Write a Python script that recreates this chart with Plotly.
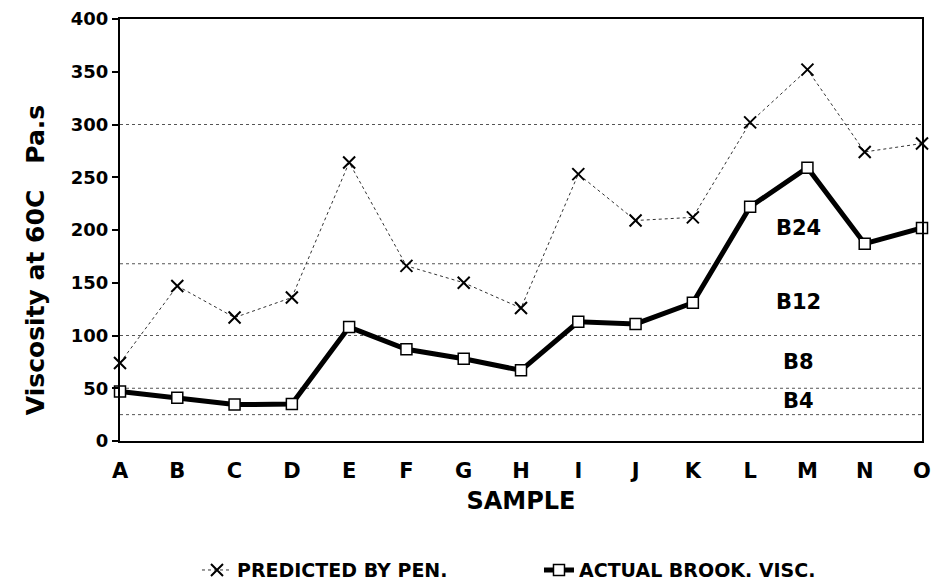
import plotly.graph_objects as go

samples = ["A", "B", "C", "D", "E", "F", "G", "H", "I", "J", "K", "L", "M", "N", "O"]
predicted_by_pen = [74, 147, 117, 136, 264, 166, 150, 126, 253, 209, 212, 302, 352, 274, 282]
actual_brook_visc = [47, 41, 34.5, 35, 108, 87, 78, 67, 113, 111, 131, 222, 259, 187, 202]
band_limits = [25, 50, 100, 168, 300]
band_names = ["B4", "B8", "B12", "B24"]
y_ticks = [0, 50, 100, 150, 200, 250, 300, 350, 400]

FONT = "DejaVu Sans"

fig = go.Figure()

fig.add_trace(go.Scatter(
    x=samples, y=predicted_by_pen, name="PREDICTED BY PEN.",
    mode="lines+markers",
    line=dict(color="#333333", width=1, dash="dot"),
    marker=dict(symbol="x-thin", size=12, line=dict(color="black", width=2)),
    cliponaxis=False,
))
fig.add_trace(go.Scatter(
    x=samples, y=actual_brook_visc, name="ACTUAL BROOK. VISC.",
    mode="lines+markers",
    line=dict(color="black", width=5),
    marker=dict(symbol="square", size=11, color="white", line=dict(color="black", width=1.5)),
    cliponaxis=False,
))

for v in band_limits:
    fig.add_hline(y=v, line=dict(color="#555555", width=1, dash="dot"), layer="below")

label_y = [37.5, 75, 132, 202]
for name, yv in zip(band_names, label_y):
    fig.add_annotation(x=11.85, y=yv, xref="x", yref="y", text=name, showarrow=False,
                       font=dict(family=FONT, size=21, color="black", weight="bold"))

fig.add_annotation(
    x=-0.105, y=0.428, xref="paper", yref="paper",
    text="Viscosity at 60C\u00a0\u00a0 Pa.s", textangle=-90, showarrow=False,
    xanchor="center", yanchor="middle",
    font=dict(family=FONT, size=25, color="black", weight="bold"),
)

fig.update_layout(
    width=948, height=581,
    margin=dict(l=112, r=34, t=11, b=148, autoexpand=False),
    paper_bgcolor="white", plot_bgcolor="white",
    showlegend=True,
    legend=dict(
        orientation="h", x=0.096, y=-0.306, xanchor="left", yanchor="middle",
        font=dict(family=FONT, size=19, color="black", weight="bold"),
        entrywidth=297, itemwidth=30,
    ),
    xaxis=dict(
        type="category", categoryorder="array", categoryarray=samples,
        range=[0, 14], showgrid=False, zeroline=False, automargin=False,
        showline=True, linecolor="black", linewidth=2, mirror=True,
        ticks="", ticklabelstandoff=10,
        tickfont=dict(family=FONT, size=21, color="black", weight="bold"),
        title=dict(text="SAMPLE", standoff=10,
                   font=dict(family=FONT, size=24, color="black", weight="bold")),
    ),
    yaxis=dict(
        range=[0, 400], tickvals=y_ticks, showgrid=False, zeroline=False, automargin=False,
        showline=True, linecolor="black", linewidth=2, mirror=True,
        ticks="outside", ticklen=6, tickwidth=1.5, tickcolor="black",
        ticklabeloverflow="allow",
        tickfont=dict(family=FONT, size=18, color="black", weight="bold"),
    ),
)

fig.write_html("out.html")
